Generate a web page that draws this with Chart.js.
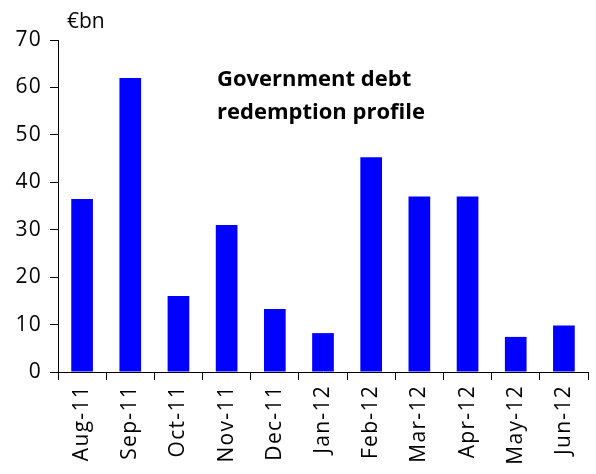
<!DOCTYPE html>
<html>
<head>
<meta charset="utf-8">
<script src="https://cdn.jsdelivr.net/npm/chart.js@4"></script>
<style>
  html, body { margin: 0; padding: 0; background: #fff; }
  #wrap { width: 596px; height: 474px; }
</style>
</head>
<body>
<div id="wrap"><canvas id="debtChart" width="596" height="474"></canvas></div>
<script>
const months = ["Aug-11", "Sep-11", "Oct-11", "Nov-11", "Dec-11", "Jan-12",
                "Feb-12", "Mar-12", "Apr-12", "May-12", "Jun-12"];
const redemptions = [36.5, 62, 16, 31, 13.3, 8.2, 45.3, 37, 37, 7.4, 9.8];
const yTicks = [0, 10, 20, 30, 40, 50, 60, 70];
const unitLabel = "€bn";
const titleLines = ["Government debt", "redemption profile"];

const FONT = "'Open Sans', 'DejaVu Sans', sans-serif";

// a touch of tracking so the labels run as wide as the printed ones
const tracking = {
    id: "tracking",
    beforeDraw(chart) {
        chart.ctx.letterSpacing = "1.3px";
    },
};

// unit label and the title, drawn on top of the plot
const annotations = {
    id: "annotations",
    afterDraw(chart) {
        const c = chart.ctx;
        c.save();
        c.fillStyle = "#000";
        c.textBaseline = "middle";
        c.textAlign = "left";
        c.letterSpacing = "0px";
        c.font = "21px " + FONT;
        c.fillText(unitLabel, 67, 22);
        c.font = "bold 22px " + FONT;
        titleLines.forEach(function (line, i) {
            c.fillText(line, 217, 80 + i * 33);
        });
        c.restore();
    },
};

const chart = new Chart(document.getElementById("debtChart"), {
    type: "bar",
    data: {
        labels: months,
        datasets: [{
            data: redemptions,
            backgroundColor: "#0000ff",
            borderWidth: 0,
            barPercentage: 0.45,
            categoryPercentage: 1,
        }],
    },
    options: {
        responsive: false,
        animation: false,
        layout: { padding: { top: 40, right: 8, left: 0, bottom: 0 } },
        plugins: {
            legend: { display: false },
            tooltip: { enabled: false },
        },
        scales: {
            x: {
                grid: {
                    drawOnChartArea: false,
                    drawTicks: true,
                    tickLength: 8,
                    color: "#000",
                    offset: true,
                },
                border: { display: true, color: "#000", width: 1 },
                ticks: {
                    color: "#000",
                    font: { family: FONT, size: 21 },
                    minRotation: 90,
                    maxRotation: 90,
                    padding: 5,
                },
                afterFit(scale) { scale.height = 102; },
            },
            y: {
                min: 0,
                max: 70,
                grid: {
                    drawOnChartArea: false,
                    drawTicks: true,
                    tickLength: 8,
                    color: "#000",
                },
                border: { display: true, color: "#000", width: 1 },
                afterBuildTicks(scale) {
                    scale.ticks = yTicks.map(v => ({ value: v }));
                },
                ticks: {
                    color: "#000",
                    font: { family: FONT, size: 21 },
                    padding: 8,
                },
                afterFit(scale) { scale.width = 58; },
            },
        },
    },
    plugins: [tracking, annotations],
});
</script>
</body>
</html>
